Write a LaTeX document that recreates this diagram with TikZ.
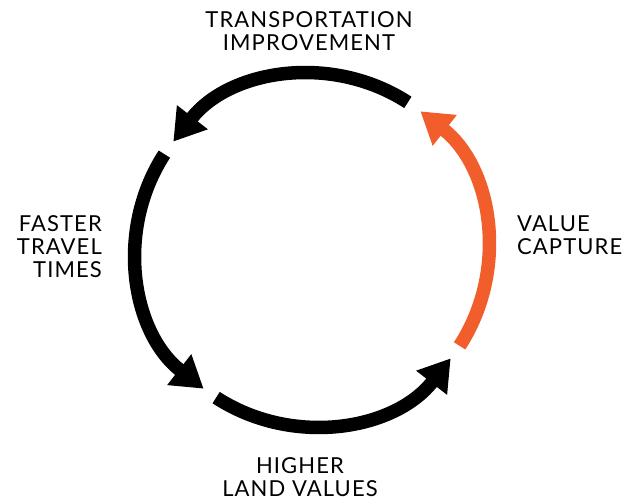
\documentclass[tikz,border=0pt]{standalone}
\usepackage{fontspec}
\setmainfont{Lato}[LetterSpace=5]
\usetikzlibrary{arrows.meta,calc}
\definecolor{vcorange}{RGB}{241,94,44}
\begin{document}
\begin{tikzpicture}[x=1pt,y=1pt,
  lbl/.style={inner sep=0pt,font=\fontsize{22}{23}\selectfont},
  cyc/.style={line width=13.5pt,-{Triangle[length=31pt,width=37pt]}},
]
\useasboundingbox (0,0) rectangle (637,501);
\coordinate (C) at (312,251);
\def\R{176}
\foreach \a/\n in {57/1,147/2,237/3,327/4}{
  \coordinate (s\n) at ($(C)+(\a:\R)$);
}
\draw[cyc,black] (s1) arc[start angle=57,end angle=142,radius=\R];
\draw[cyc,black] (s2) arc[start angle=147,end angle=232,radius=\R];
\draw[cyc,black] (s3) arc[start angle=237,end angle=322,radius=\R];
\draw[cyc,vcorange] (s4) arc[start angle=327,end angle=412,radius=\R];
\node[lbl,align=center] (ti) at (309,470) {TRANSPORTATION\\IMPROVEMENT};
\node[lbl,align=right,anchor=east] (ft) at (102,254) {FASTER\\TRAVEL\\TIMES};
\node[lbl,align=left,anchor=west] (vc) at (517,265.5) {VALUE\\CAPTURE};
\node[lbl,align=center] (hl) at (300,24) {HIGHER\\LAND VALUES};
\end{tikzpicture}
\end{document}
